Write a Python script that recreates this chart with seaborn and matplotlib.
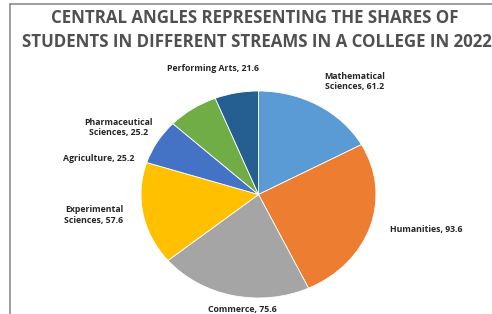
import matplotlib
matplotlib.use("Agg")
import matplotlib.pyplot as plt
import seaborn as sns
from matplotlib.lines import Line2D

# ---- data ----
streams = ["Mathematical\nSciences", "Humanities", "Commerce", "Experimental\nSciences",
           "Agriculture", "Pharmaceutical\nSciences", "Performing Arts"]
angles = [61.2, 93.6, 75.6, 57.6, 25.2, 25.2, 21.6]
colors = ["#5B9BD5", "#ED7D31", "#A5A5A5", "#FFC000", "#4472C4", "#70AD47", "#255E91"]
title_lines = ["CENTRAL ANGLES REPRESENTING THE SHARES OF",
               "STUDENTS IN DIFFERENT STREAMS IN A COLLEGE IN 2022"]

# label positions (in pie data units, radius = 1)
label_pos = [(0.82, 1.09), (1.43, -0.34), (-0.14, -1.11), (-1.40, -0.20),
             (-1.36, 0.35), (-1.19, 0.65), (-0.39, 1.22)]

sns.set_theme(style="white")
plt.rcParams["font.family"] = ["Open Sans", "DejaVu Sans"]

W, H = 492, 314
fig = plt.figure(figsize=(W / 100, H / 100), dpi=100)
fig.patch.set_facecolor("white")

# pie axes: ellipse spanning x 141..376, y 91..298 (pixels from top)
x0, x1, y0, y1 = 141, 376, 91, 298
ax = fig.add_axes([x0 / W, (H - y1) / H, (x1 - x0) / W, (y1 - y0) / H])
wedges, _ = ax.pie(angles, colors=colors, startangle=90, counterclock=False,
                   wedgeprops=dict(edgecolor="white", linewidth=0.6))
ax.set_aspect("auto")
ax.set_xlim(-1, 1)
ax.set_ylim(-1, 1)
ax.axis("off")

for name, val, (lx, ly) in zip(streams, angles, label_pos):
    ax.text(lx, ly, f"{name}, {val}", ha="center", va="center", fontsize=6.3,
            fontweight="bold", color="#262626", linespacing=1.2, clip_on=False)

# title
fig.text(255 / W, 1 - 18 / H, title_lines[0], ha="center", va="center",
         fontsize=12.2, fontweight="bold", color="#505050")
fig.text(257 / W, 1 - 42 / H, title_lines[1], ha="center", va="center",
         fontsize=12.2, fontweight="bold", color="#505050")

# chart border (top and left visible)
fig.add_artist(Line2D([10 / W, 1.0], [1 - 4 / H, 1 - 4 / H], transform=fig.transFigure,
                      color="#8c8c8c", linewidth=1.2))
fig.add_artist(Line2D([10 / W, 10 / W], [0, 1 - 4 / H], transform=fig.transFigure,
                      color="#8c8c8c", linewidth=1.2))

fig.savefig("out.png", dpi=100, facecolor="white")
